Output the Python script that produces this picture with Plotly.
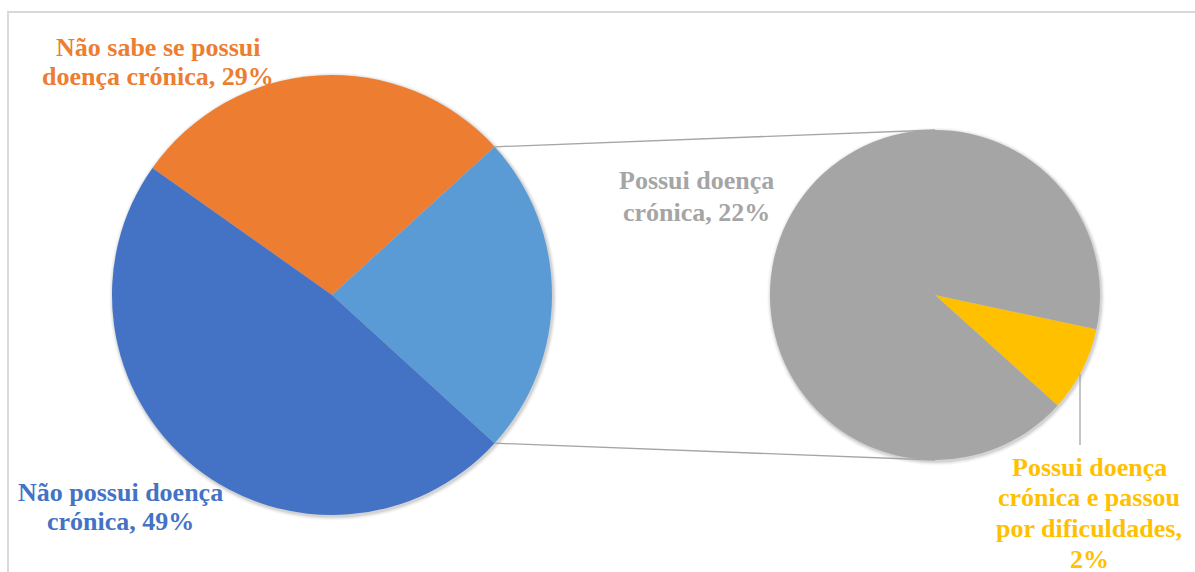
import math
import plotly.graph_objects as go

# ---- data (as displayed in the chart, %) ----
main_labels = ["Não sabe se possui doença crónica", "Possui doença crónica (total)", "Não possui doença crónica"]
main_values = [29, 22 + 2, 49]
main_colors = ["#ED7D31", "#5B9BD5", "#4472C4"]

sub_labels = ["Possui doença crónica e passou por dificuldades", "Possui doença crónica"]
sub_values = [2, 22]
sub_colors = ["#FFC000", "#A5A5A5"]

label_texts = {
    "orange": ["Não sabe se possui", "doença crónica, 29%"],
    "blue": ["Não possui doença", "crónica, 49%"],
    "gray": ["Possui doença", "crónica, 22%"],
    "yellow": ["Possui doença", "crónica e passou", "por dificuldades,", "2%"],
}

W, H = 1195, 572
FONT = "Liberation Serif"
FS = 26


def px(x):
    return x / W


def py(y):
    return 1 - y / H


# geometry (pixels)
M_CX, M_CY, M_R = 332, 295, 220
S_CX, S_CY, S_R = 935, 295, 165

tot = sum(main_values)
other_deg = 360 * main_values[1] / tot
start_math = other_deg / 2 + 360 * main_values[0] / tot
main_rotation = 90 - start_math

sub_start_math = -12.0
sub_rotation = 90 - sub_start_math


def dom(cx, cy, r):
    return dict(x=[px(cx - r), px(cx + r)], y=[py(cy + r), py(cy - r)])


fig = go.Figure()
# soft shadow layers
for cx, cy, r in ((M_CX, M_CY, M_R), (S_CX, S_CY, S_R)):
    for d, a in ((4, 0.025), (3, 0.035), (2, 0.05), (1, 0.07)):
        fig.add_trace(go.Pie(values=[1], marker=dict(colors=["rgba(0,0,0,%s)" % a], line=dict(width=0)),
                             textinfo="none", hoverinfo="skip", showlegend=False, sort=False,
                             domain=dom(cx + 1, cy + 1.5, r + d)))

fig.add_trace(go.Pie(
    labels=main_labels, values=main_values, sort=False, direction="clockwise",
    rotation=main_rotation, marker=dict(colors=main_colors, line=dict(width=0)),
    textinfo="none", showlegend=False, domain=dom(M_CX, M_CY, M_R),
))
fig.add_trace(go.Pie(
    labels=sub_labels, values=sub_values, sort=False, direction="clockwise",
    rotation=sub_rotation, marker=dict(colors=sub_colors, line=dict(width=0)),
    textinfo="none", showlegend=False, domain=dom(S_CX, S_CY, S_R),
))

shapes = []
shapes.append(dict(type="rect", xref="paper", yref="paper", x0=px(8), x1=1.02, y0=-0.02, y1=py(12),
                   line=dict(color="#D9D9D9", width=2), fillcolor="rgba(0,0,0,0)", layer="below"))
th = math.radians(other_deg / 2)
for sgn in (1, -1):
    x0 = M_CX + M_R * math.cos(th)
    y0 = M_CY - sgn * M_R * math.sin(th)
    x1 = S_CX
    y1 = S_CY - sgn * S_R
    shapes.append(dict(type="line", xref="paper", yref="paper", x0=px(x0), y0=py(y0), x1=px(x1), y1=py(y1),
                       line=dict(color="#A5A5A5", width=1.3)))
lx = S_CX + 145
ly0 = S_CY + math.sqrt(S_R ** 2 - 145 ** 2)
shapes.append(dict(type="line", xref="paper", yref="paper", x0=px(lx), x1=px(lx), y0=py(ly0), y1=py(445),
                   line=dict(color="#A5A5A5", width=1.3)))

annotations = []


def add_label(lines, cx, first_mid, lh, color):
    for i, t in enumerate(lines):
        annotations.append(dict(
            text="<b>%s</b>" % t, x=px(cx), y=py(first_mid + i * lh), xref="paper", yref="paper",
            xanchor="center", yanchor="middle", showarrow=False,
            font=dict(family=FONT, size=FS, color=color),
        ))


add_label(label_texts["orange"], 158, 47.5, 28.5, "#ED7D31")
add_label(label_texts["blue"], 120, 492, 29, "#4472C4")
add_label(label_texts["gray"], 696, 180, 32, "#A5A5A5")
add_label(label_texts["yellow"], 1089, 467, 30.7, "#FFC000")

fig.update_layout(
    width=W, height=H, margin=dict(l=0, r=0, t=0, b=0),
    paper_bgcolor="white", plot_bgcolor="white",
    shapes=shapes, annotations=annotations,
)

fig.write_html("out.html")
